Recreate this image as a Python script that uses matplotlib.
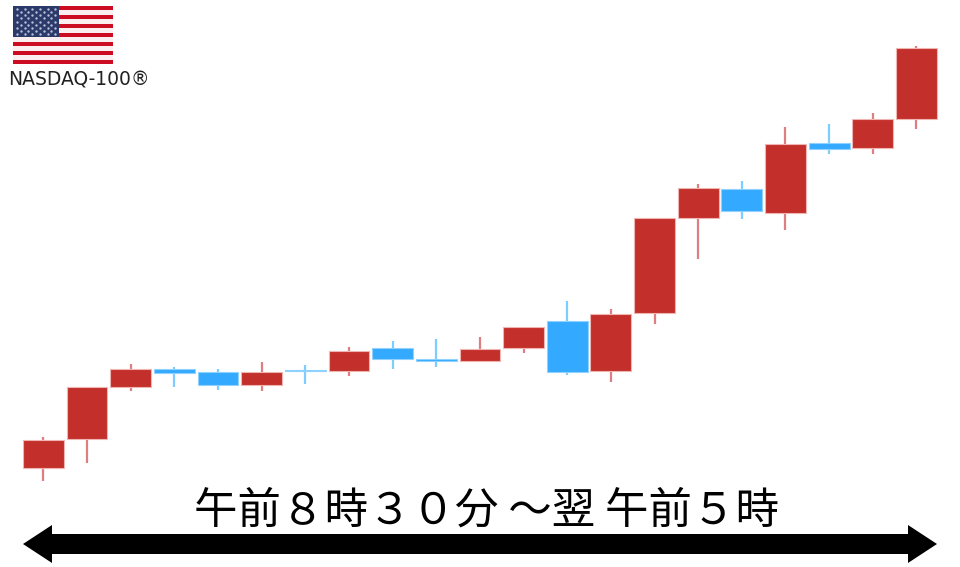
import numpy as np
import matplotlib
matplotlib.use("Agg")
import matplotlib.pyplot as plt
from matplotlib.patches import FancyArrow, Rectangle

# 値は画像から読み取り (上が大きい)
opens = [99, 128, 180.3, 198.3, 194.7, 181.7, 196.6, 195.7, 219.3, 208.2, 206, 219.3, 246.3, 196.3, 253.7, 348.7, 378.3, 354.3, 423.7, 419, 448.3]
closes = [127.5, 180, 198.3, 193.7, 182, 195.3, 195.8, 216.3, 208, 206, 218.3, 240, 195, 252.7, 349.3, 379.3, 355.7, 423, 418.3, 448, 519]
highs = [130, 180.5, 203.3, 199.7, 198.3, 205.3, 202, 220, 226.3, 227.7, 229.7, 240, 266, 258, 349.3, 383.3, 386, 439.7, 443, 454.3, 521.3]
lows = [86, 104.3, 176, 179.7, 177, 176, 182.7, 190.7, 198.3, 199.7, 206, 213.7, 192.3, 184.7, 243, 307.7, 348, 337, 413.3, 413.3, 438.3]

RED = "#c32f2a"
RED_WICK = "#dd7f80"
BLUE = "#33a9ff"
BLUE_WICK = "#7fccff"

fig = plt.figure(figsize=(9.6, 5.67), dpi=100)
ax = fig.add_axes([0, 0, 1, 1])
ax.set_xlim(-0.995, 20.998)
ax.set_ylim(0, 567)
ax.axis("off")

x = np.arange(len(opens))
for i in x:
    up = closes[i] >= opens[i]
    ax.vlines(i, lows[i], highs[i], color=RED_WICK if up else BLUE_WICK, lw=1.6, zorder=1)
    bottom = min(opens[i], closes[i])
    height = abs(closes[i] - opens[i])
    ax.bar(i, height, bottom=bottom, width=0.935, color=RED if up else BLUE,
           edgecolor="#eeb5b3" if up else "#8fd2ff", linewidth=0.8, zorder=2)

# 下の矢印と文字
over = fig.add_axes([0, 0, 1, 1])
over.set_xlim(0, 960)
over.set_ylim(567, 0)
over.axis("off")
over.patch.set_alpha(0)
over.add_patch(FancyArrow(480, 544, 457, 0, width=20, head_width=38, head_length=29,
                          length_includes_head=True, color="black", lw=0))
over.add_patch(FancyArrow(480, 544, -457, 0, width=20, head_width=38, head_length=29,
                          length_includes_head=True, color="black", lw=0))
over.text(486.5, 512, "午前８時３０分 ～翌 午前５時", family=["Noto Sans CJK JP", "DejaVu Sans"],
          fontsize=31.3, ha="center", va="center", color="black")
over.text(8, 80, "NASDAQ-100®", fontsize=13.5, ha="left", va="center", color="#222222",
          family=["DejaVu Sans"])

# 国旗
flag = fig.add_axes([13 / 960, 1 - 64 / 567, 100 / 960, 58 / 567])
flag.set_xlim(0, 1)
flag.set_ylim(13, 0)
flag.axis("off")
for s in range(13):
    flag.add_patch(Rectangle((0, s), 1, 1, color="#cc0c22" if s % 2 == 0 else "#fbeef0", lw=0))
flag.add_patch(Rectangle((0, 0), 0.46, 7, color="#2b3a6b", lw=0, zorder=2))
for r in range(9):
    n = 6 if r % 2 == 0 else 5
    xs = (np.arange(n) + (0.5 if r % 2 == 0 else 1.0)) * 0.46 / 6
    flag.scatter(xs, np.full(n, (r + 1) * 0.7), s=3, color="#b9c0d6", lw=0, zorder=3)

fig.savefig("out.png", dpi=100)
